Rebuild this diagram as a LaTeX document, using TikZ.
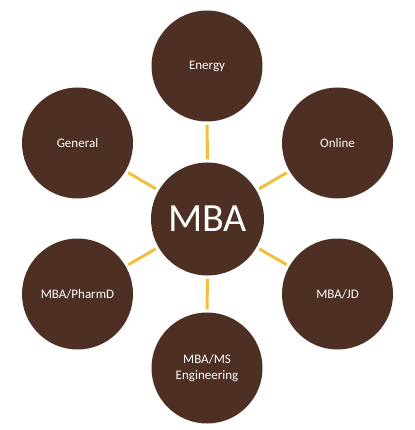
\documentclass[tikz,border=0pt]{standalone}
\usepackage{fontspec}
\setmainfont{Carlito}
\definecolor{hubbrown}{RGB}{78,47,35}
\definecolor{spokegold}{RGB}{241,192,58}
\begin{document}
\begin{tikzpicture}[
  x=1pt, y=-1pt,
  every node/.style={circle, fill=hubbrown, text=white, minimum size=111pt,
    inner sep=0pt, align=center, font=\fontsize{13}{16}\selectfont},
  spoke/.style={draw=spokegold, line width=3pt, shorten <=3pt, shorten >=3pt}
]
\useasboundingbox (0,0) rectangle (414,430);
\node[minimum size=113pt, font=\fontsize{40}{44}\selectfont] (mba) at (207.5,219) {MBA};
\node (energy)  at (207,66)    {Energy};
\node (online)  at (337.5,143) {Online};
\node (jd)      at (337.5,294) {MBA/JD};
\node (ms)      at (207,368)   {MBA/MS\\Engineering};
\node (pharmd)  at (77.5,294)  {MBA/PharmD};
\node (general) at (77.5,143)  {General};
\draw[spoke] (mba) -- (energy);
\draw[spoke] (mba) -- (online);
\draw[spoke] (mba) -- (jd);
\draw[spoke] (mba) -- (ms);
\draw[spoke] (mba) -- (pharmd);
\draw[spoke] (mba) -- (general);
\end{tikzpicture}
\end{document}
